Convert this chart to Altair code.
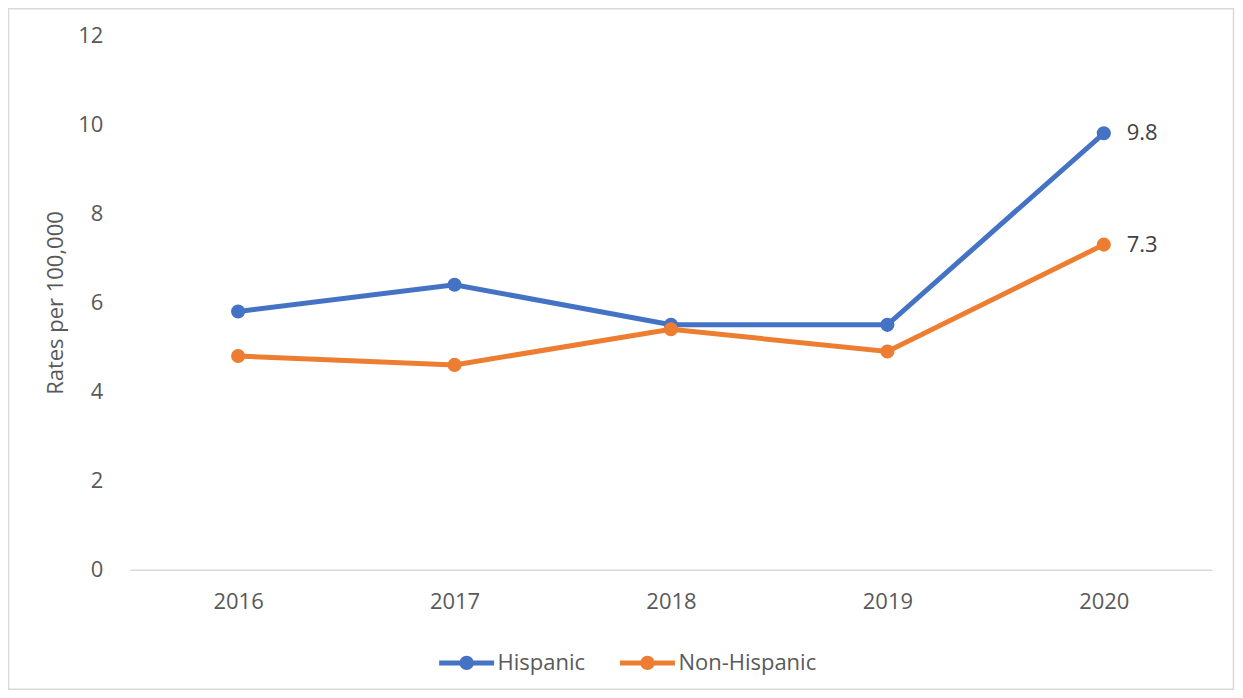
import altair as alt
import pandas as pd

years = ["2016", "2017", "2018", "2019", "2020"]
hispanic = [5.8, 6.4, 5.5, 5.5, 9.8]
non_hispanic = [4.8, 4.6, 5.4, 4.9, 7.3]
series_names = ["Hispanic", "Non-Hispanic"]
colors = ["#4472C4", "#ED7D31"]
y_ticks = [0, 2, 4, 6, 8, 10, 12]
y_title = "Rates per 100,000"

rows = []
for s, vals in zip(series_names, [hispanic, non_hispanic]):
    for yr, v in zip(years, vals):
        rows.append({"Year": yr, "Series": s, "Rate": v})
df = pd.DataFrame(rows)

W, H = 1083, 535
FONT = "Open Sans"
GRAY = "#595959"

x = alt.X(
    "Year:O",
    scale=alt.Scale(type="point", padding=0.5),
    axis=alt.Axis(title=None, labelAngle=0, labelFontSize=22, labelColor=GRAY,
                  labelPadding=22, ticks=False, domainColor="#d9d9d9",
                  domainWidth=1.5, grid=False),
)
y = alt.Y(
    "Rate:Q",
    scale=alt.Scale(domain=[0, 12]),
    axis=alt.Axis(title=y_title, values=y_ticks, labelFontSize=22, labelColor=GRAY,
                  labelPadding=27, ticks=False, domain=False, grid=False,
                  titleFontSize=22, titleColor=GRAY, titleFontWeight="normal",
                  titlePadding=10),
)

sym_path = ("M-1,0H1M-0.17,0A0.17,0.17,0,1,1,0.17,0A0.17,0.17,0,1,1,-0.17,0Z")
legend = alt.Legend(
    title=None, orient="none", legendX=307, legendY=598, direction="horizontal",
    symbolType=sym_path, symbolSize=3025, symbolStrokeWidth=5, symbolOpacity=1,
    labelFontSize=22, labelColor=GRAY, labelFont=FONT, columnPadding=24,
    labelOffset=1,
)

color = alt.Color("Series:N", scale=alt.Scale(domain=series_names, range=colors),
                  legend=legend)

lines = alt.Chart(df).mark_line(
    strokeWidth=5,
    point=alt.OverlayMarkDef(filled=True, size=200, opacity=1),
).encode(x=x, y=y, color=color)

labels = alt.Chart(df).transform_filter(
    alt.datum.Year == years[-1]
).mark_text(align="left", baseline="middle", dx=23, fontSize=22,
            color="#404040").encode(
    x=x, y=y, text=alt.Text("Rate:Q", format=".1f")
)

frame = alt.Chart(pd.DataFrame({"k": [0]})).mark_rect(
    fill=None, stroke="#d9d9d9", strokeWidth=1.5
).encode(
    x=alt.value(-121.5), x2=alt.value(W + 21.5),
    y=alt.value(-26.5), y2=alt.value(H + 119.5),
)

chart = alt.layer(frame, lines, labels).properties(
    width=W, height=H,
    autosize=alt.AutoSizeParams(type="none"),
    padding={"left": 122, "top": 27, "right": 23, "bottom": 121},
).configure(font=FONT).configure_view(stroke=None)

chart.save("out.html", embed_options={"renderer": "svg", "actions": False})
